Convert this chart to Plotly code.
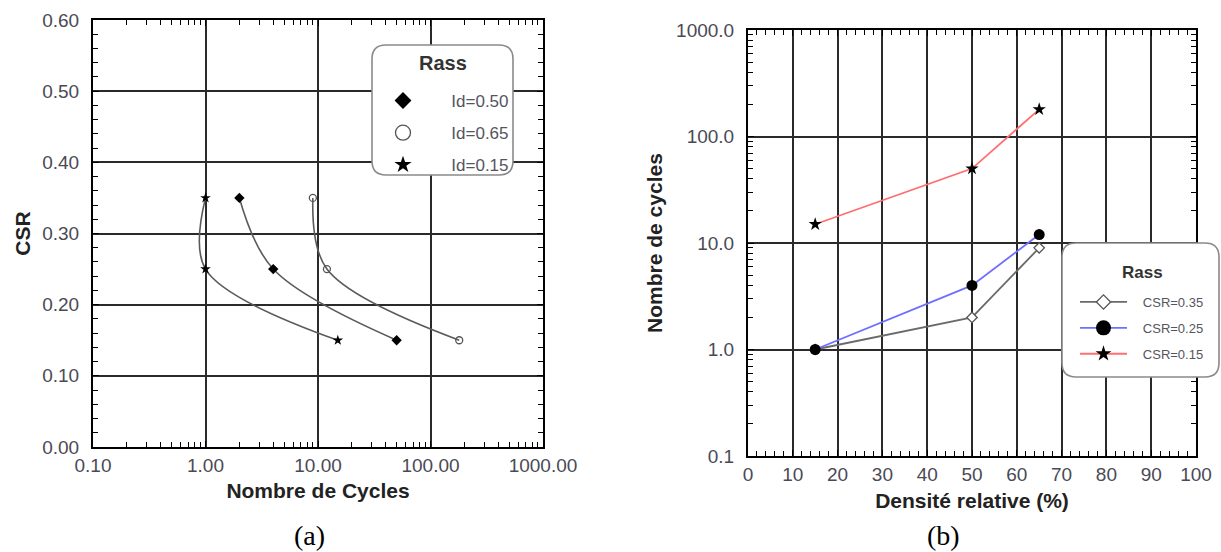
import plotly.graph_objects as go
from plotly.subplots import make_subplots

# ---- data -------------------------------------------------------------
# (a) number of cycles to liquefaction vs cyclic stress ratio, per density index
csr_levels = [0.35, 0.25, 0.15]
cycles_id050 = [2.0, 4.0, 50.0]
cycles_id065 = [9.0, 12.0, 180.0]
cycles_id015 = [1.0, 1.0, 15.0]

# (b) number of cycles vs relative density, per CSR level
densite_rel = [15, 50, 65]
cycles_csr035 = [1.0, 2.0, 9.0]
cycles_csr025 = [1.0, 4.0, 12.0]
cycles_csr015 = [15.0, 50.0, 180.0]

a_xticks = [0.1, 1, 10, 100, 1000]
a_xlabels = ["0.10", "1.00", "10.00", "100.00", "1000.00"]
b_yticks = [0.1, 1, 10, 100, 1000]
b_ylabels = ["0.1", "1.0", "10.0", "100.0", "1000.0"]

W, H = 1221, 552
FONT = "Liberation Sans, Arial, sans-serif"
SERIF = "Liberation Serif, Times New Roman, serif"
TICK_COLOR = "#4a4a55"
GRID = "#2a2a2a"

log_minor = [m * 10 ** e for e in range(-1, 3) for m in range(2, 10)]

fig = make_subplots(rows=1, cols=2)

# ---- panel (a) --------------------------------------------------------
curve_style = dict(color="#5a5a5a", width=1.6, shape="spline", smoothing=1)
series_a = [
    ("Id=0.50", cycles_id050, dict(symbol="diamond", size=8, color="black")),
    ("Id=0.65", cycles_id065, dict(symbol="circle-open", size=7, color="#555555",
                                   line=dict(width=1.3, color="#555555"))),
    ("Id=0.15", cycles_id015, dict(symbol="star", size=8, color="black")),
]
for name, xs, mk in series_a:
    fig.add_trace(go.Scatter(x=xs, y=csr_levels, mode="lines+markers",
                             line=curve_style, marker=mk, showlegend=False),
                  row=1, col=1)

legend_a_markers = [
    ("Id=0.50", dict(symbol="diamond", size=13, color="black")),
    ("Id=0.65", dict(symbol="circle", size=15, color="white",
                     line=dict(width=1.3, color="#555555"))),
    ("Id=0.15", dict(symbol="star", size=13, color="black")),
]
for i, (name, mk) in enumerate(legend_a_markers):
    fig.add_trace(go.Scatter(x=[None], y=[None], mode="markers", marker=mk,
                             name="\u00a0" * 6 + name, legend="legend",
                             legendgroup=f"a{i}"),
                  row=1, col=1)

# ---- panel (b) --------------------------------------------------------
series_b = [
    ("CSR=0.35", cycles_csr035, "#6a6a6a",
     dict(symbol="diamond", size=8, color="white", line=dict(width=1.3, color="#555555")),
     dict(symbol="diamond", size=11, color="white", line=dict(width=1.3, color="#555555"))),
    ("CSR=0.25", cycles_csr025, "#6f6fff",
     dict(symbol="circle", size=11, color="black"),
     dict(symbol="circle", size=15, color="black")),
    ("CSR=0.15", cycles_csr015, "#ff6f6f",
     dict(symbol="star", size=10, color="black"),
     dict(symbol="star", size=12, color="black")),
]
for i, (name, ys, col, mk, mk_leg) in enumerate(series_b):
    fig.add_trace(go.Scatter(x=densite_rel, y=ys, mode="lines+markers",
                             line=dict(color=col, width=1.8), marker=mk,
                             showlegend=False),
                  row=1, col=2)
    fig.add_trace(go.Scatter(x=[None], y=[None], mode="lines+markers",
                             line=dict(color=col, width=1.8), marker=mk_leg,
                             name="\u00a0" * 3 + name, legend="legend2",
                             legendgroup=f"b{i}"),
                  row=1, col=2)

# ---- axes -------------------------------------------------------------
tick_font = dict(family=FONT, size=19, color=TICK_COLOR)
title_font = dict(family=FONT, size=21, color="#222222", weight="bold")
frame = dict(showline=True, linecolor="black", linewidth=2, mirror="allticks",
             ticks="inside", ticklen=6, tickwidth=1.2, tickcolor="black",
             showgrid=True, gridcolor=GRID, gridwidth=1.9, zeroline=False,
             tickfont=tick_font, automargin=False)

fig.update_xaxes(type="log", range=[-1, 3], tickvals=a_xticks, ticktext=a_xlabels,
                 minor=dict(tickvals=log_minor, ticks="inside", ticklen=5,
                            tickcolor="black", showgrid=False),
                 title=dict(text="Nombre de Cycles", font=title_font, standoff=9),
                 ticklabelstandoff=0,
                 domain=[93 / W, 543 / W], **frame, row=1, col=1)
fig.update_yaxes(range=[0, 0.6], dtick=0.1, tickformat=".2f",
                 minor=dict(dtick=0.02, ticks="inside", ticklen=5,
                            tickcolor="black", showgrid=False),
                 title=dict(text="CSR", font=title_font, standoff=6),
                 ticklabelstandoff=8,
                 domain=[1 - 447 / H, 1 - 20 / H], **frame, row=1, col=1)

fig.update_xaxes(range=[0, 100], dtick=10,
                 minor=dict(dtick=2, ticks="inside", ticklen=5,
                            tickcolor="black", showgrid=False),
                 title=dict(text="Densité relative (%)", font=title_font, standoff=10),
                 ticklabelstandoff=0,
                 domain=[748 / W, 1196 / W], **frame, row=1, col=2)
fig.update_yaxes(type="log", range=[-1, 3], tickvals=b_yticks, ticktext=b_ylabels,
                 minor=dict(tickvals=log_minor, ticks="inside", ticklen=5,
                            tickcolor="black", showgrid=False),
                 title=dict(text="Nombre de cycles", font=title_font, standoff=8),
                 ticklabelstandoff=8,
                 domain=[1 - 456 / H, 1 - 30 / H], **frame, row=1, col=2)


# ---- rounded legend frames -------------------------------------------
def rounded_box(x0, y0, x1, y1, r):
    def p(x, y):
        return f"{x / W:.5f},{1 - y / H:.5f}"
    return (f"M{p(x0 + r, y0)} L{p(x1 - r, y0)} Q{p(x1, y0)} {p(x1, y0 + r)} "
            f"L{p(x1, y1 - r)} Q{p(x1, y1)} {p(x1 - r, y1)} "
            f"L{p(x0 + r, y1)} Q{p(x0, y1)} {p(x0, y1 - r)} "
            f"L{p(x0, y0 + r)} Q{p(x0, y0)} {p(x0 + r, y0)} Z")


box_style = dict(type="path", xref="paper", yref="paper", layer="above",
                 fillcolor="white", line=dict(color="#8a8a8a", width=1.6))
fig.add_shape(path=rounded_box(372, 45, 513, 175, 14), **box_style)
fig.add_shape(path=rounded_box(1062, 243, 1219, 377, 14), **box_style)


def label(text, x, y, font):
    return dict(text=text, x=x / W, y=1 - y / H, xref="paper", yref="paper",
                xanchor="center", yanchor="middle", showarrow=False, font=font)


fig.update_layout(
    width=W, height=H, autosize=False,
    margin=dict(l=0, r=0, t=0, b=0, autoexpand=False),
    paper_bgcolor="white", plot_bgcolor="white",
    font=dict(family=FONT),
    legend=dict(x=383 / W, xanchor="left", y=1 - 83 / H, yanchor="top",
                bgcolor="rgba(0,0,0,0)", borderwidth=0, tracegroupgap=7,
                font=dict(family=FONT, size=17, color="#555560")),
    legend2=dict(x=1075 / W, xanchor="left", y=1 - 287 / H, yanchor="top",
                 bgcolor="rgba(0,0,0,0)", borderwidth=0, tracegroupgap=6, itemwidth=47,
                 font=dict(family=FONT, size=13, color="#555560")),
    annotations=[
        label("Rass", 443, 63, dict(family=FONT, size=20, color="#333333", weight="bold")),
        label("Rass", 1142, 272, dict(family=FONT, size=17, color="#333333", weight="bold")),
        label("(a)", 309, 535, dict(family=SERIF, size=28, color="black")),
        label("(b)", 943, 535, dict(family=SERIF, size=28, color="black")),
    ],
)

fig.write_html("out.html")
